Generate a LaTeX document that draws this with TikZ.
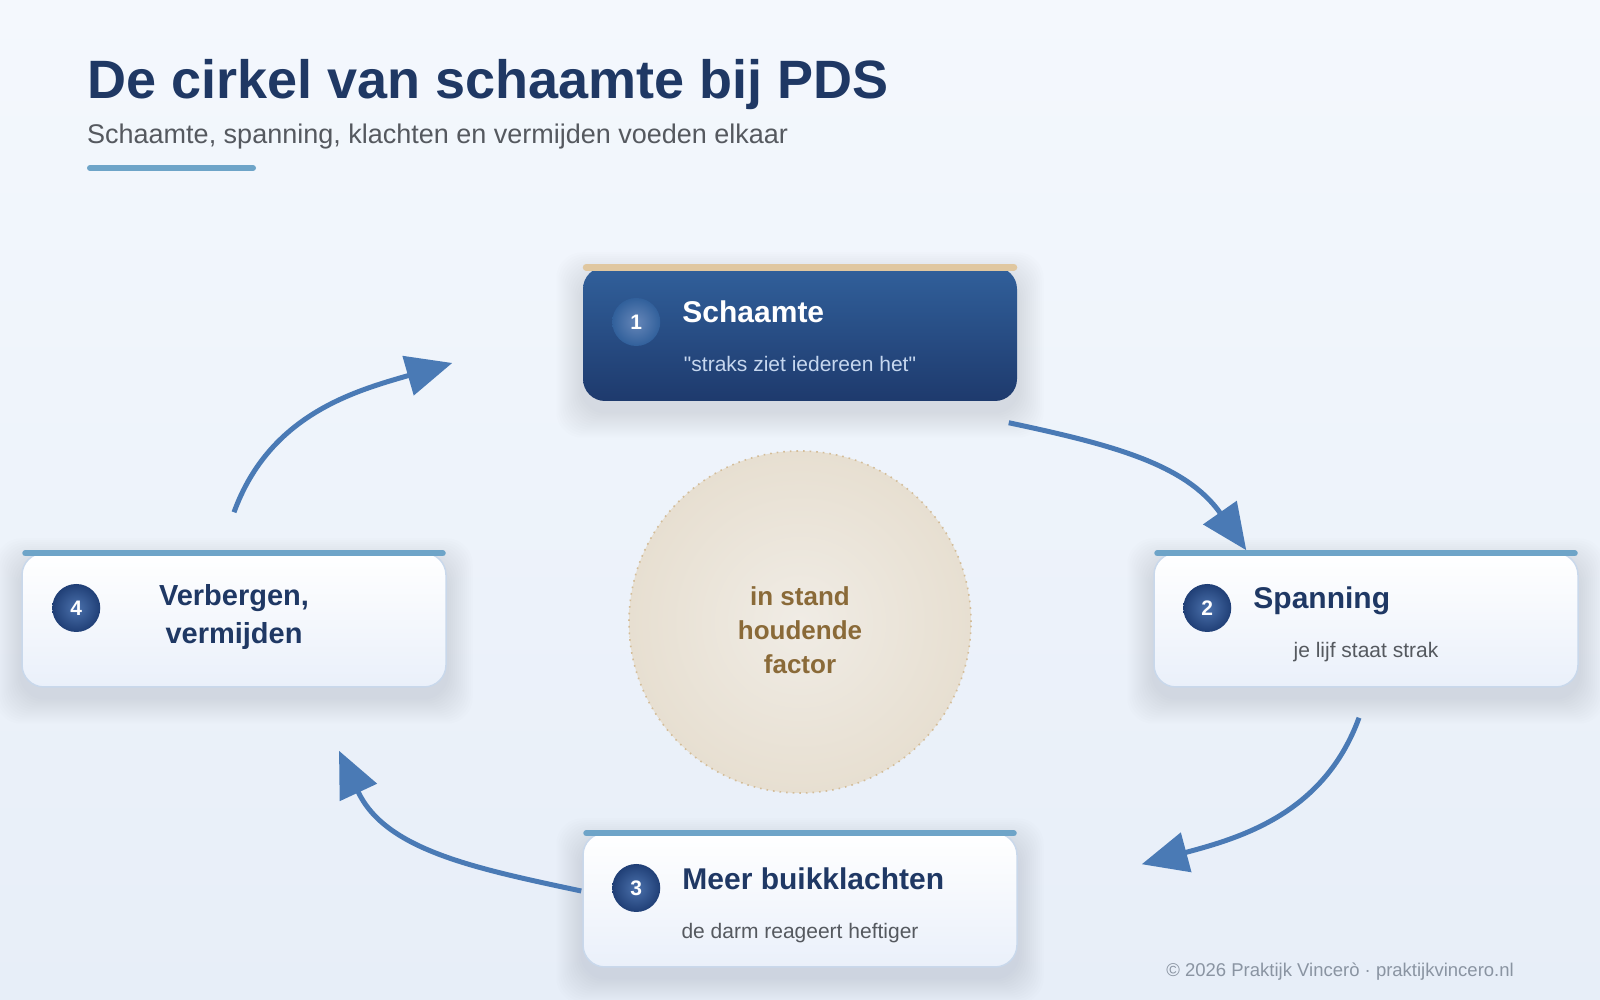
\documentclass[tikz,border=0pt]{standalone}
\usepackage{fontspec}
\setmainfont{Liberation Sans}[Ligatures=TeXOff]
\usetikzlibrary{positioning,calc,arrows.meta,backgrounds}

\definecolor{navy}{HTML}{1F3864}
\definecolor{deepblue}{HTML}{1E3A6D}
\definecolor{midblue}{HTML}{31609B}
\definecolor{flowblue}{HTML}{4A7AB5}
\definecolor{accent}{HTML}{6EA4C8}
\definecolor{sand}{HTML}{E0C7A0}
\definecolor{subgray}{HTML}{55595F}
\definecolor{softgray}{HTML}{8A94A2}
\definecolor{paleblue}{HTML}{C6D7EF}
\definecolor{bgtop}{HTML}{F4F8FD}
\definecolor{bgbot}{HTML}{E7EEF8}
\definecolor{cardline}{HTML}{C9D8EB}
\definecolor{cardbot}{HTML}{EAF0FA}
\definecolor{ballhi}{HTML}{4B71AC}
\definecolor{balllo}{HTML}{203F76}
\definecolor{factorin}{HTML}{F0ECE5}
\definecolor{factorout}{HTML}{E7DFD1}
\definecolor{factorrim}{HTML}{D3BC98}
\definecolor{factorbrown}{HTML}{8A6A38}

\begin{document}
\begin{tikzpicture}[x=1pt, y=1pt,
    card/.style={draw=cardline, line width=1.5pt, rounded corners=22pt, minimum width=424pt, minimum height=134pt,
        top color=white, bottom color=cardbot},
    darkcard/.style={card, draw=none, top color=midblue, bottom color=deepblue, minimum width=434pt},
    haze/.style={fill=navy, opacity=0.007, rounded corners=26pt},
    topbar/.style={line width=6pt, line cap=round, draw=accent},
    numball/.style={circle, minimum size=48pt, inner sep=0pt, inner color=ballhi, outer color=balllo,
        text=white, font=\fontsize{21}{21}\selectfont\bfseries},
    head/.style={anchor=base west, inner sep=0pt, text=navy, font=\fontsize{30}{36}\selectfont\bfseries},
    note/.style={anchor=base, inner sep=0pt, text=subgray, font=\fontsize{21}{25}\selectfont},
    flow/.style={draw=flowblue, line width=5pt, -{Triangle[length=46pt, width=40pt]}}
]
    \useasboundingbox (0,0) rectangle (1600,1000);

    % Heading
    \node[anchor=base west, inner sep=0pt, text=navy, font=\fontsize{54}{60}\selectfont\bfseries] (title) at (87,901) {De cirkel van schaamte bij PDS};
    \node[anchor=base west, inner sep=0pt, text=subgray, font=\fontsize{27}{32}\selectfont] (subtitle) at (87,856) {Schaamte, spanning, klachten en vermijden voeden elkaar};
    \coordinate (ul) at (90,832);
    \draw[topbar] (ul) -- ++(163,0);

    % Centre
    \node[circle, minimum size=342pt, inner sep=0pt, inner color=factorin, outer color=factorout,
        draw=factorrim, line width=1.6pt, dash pattern=on 1.6pt off 5pt] (factor) at (800,378) {};
    \node[align=center, text=factorbrown, font=\fontsize{26}{34}\selectfont\bfseries] (factortext) at ([yshift=-8pt]factor.center) {in stand\\houdende\\factor};

    % Boxes
    \node[darkcard] (shame) at (800,666) {};
    \node[card] (tension) at (1366,380) {};
    \node[card, minimum width=434pt] (gut) at (800,100) {};
    \node[card] (hide) at (234,380) {};

    \draw[topbar, draw=sand, line width=7pt] ([shift={(4,-1)}]shame.north west) -- ([shift={(-4,-1)}]shame.north east);
    \draw[topbar] ([shift={(4,-1)}]tension.north west) -- ([shift={(-4,-1)}]tension.north east);
    \draw[topbar] ([shift={(4,-1)}]gut.north west) -- ([shift={(-4,-1)}]gut.north east);
    \draw[topbar] ([shift={(4,-1)}]hide.north west) -- ([shift={(-4,-1)}]hide.north east);

    % Box 1
    \node[numball, inner color=ballhi!85!white, outer color=midblue] (n1) at ([shift={(54,12)}]shame.west) {1};
    \node[head, text=white] (h1) at ([shift={(100,11)}]shame.west) {Schaamte};
    \node[note, text=paleblue] (s1) at ([yshift=-38pt]shame.center) {"straks ziet iedereen het"};

    % Box 2
    \node[numball] (n2) at ([shift={(54,12)}]tension.west) {2};
    \node[head] (h2) at ([shift={(100,11)}]tension.west) {Spanning};
    \node[note] (s2) at ([yshift=-38pt]tension.center) {je lijf staat strak};

    % Box 3
    \node[numball] (n3) at ([shift={(54,12)}]gut.west) {3};
    \node[head] (h3) at ([shift={(100,10)}]gut.west) {Meer buikklachten};
    \node[note] (s3) at ([yshift=-39pt]gut.center) {de darm reageert heftiger};

    % Box 4
    \node[numball] (n4) at ([shift={(55,12)}]hide.west) {4};
    \node[align=center, text=navy, font=\fontsize{29}{38}\selectfont\bfseries] (h4) at ([yshift=3pt]hide.center) {Verbergen,\\vermijden};

    % Connections
    \draw[flow] ([shift={(-9,-21)}]shame.south east) to[out=-12, in=125] ([shift={(93,2)}]tension.north west);
    \draw[flow] ([shift={(-7,-30)}]tension.south) to[out=-110, in=15] ([shift={(124,-32)}]gut.north east);
    \draw[flow] ([shift={(-1,9)}]gut.west) to[out=168, in=-65] ([shift={(105,-63)}]hide.south);
    \draw[flow] ([shift={(0,40)}]hide.north) to[out=70, in=196] ([shift={(-130,-29)}]shame.west);

    % Footer
    \node[anchor=base east, inner sep=0pt, text=softgray, font=\fontsize{18.5}{22}\selectfont] (footer) at (1514,23) {© 2026 Praktijk Vincerò · praktijkvincero.nl};

    % Page and soft shadows
    \begin{scope}[on background layer]
        \fill[top color=bgtop, bottom color=bgbot] (0,0) rectangle (1600,1000);
        \foreach \b in {shame,tension,gut,hide}
            \foreach \k in {2,4,...,26}
                \fill[haze] ([shift={(-\k,-\k-10)}]\b.south west) rectangle ([shift={(\k,\k-12)}]\b.north east);
    \end{scope}
\end{tikzpicture}
\end{document}
